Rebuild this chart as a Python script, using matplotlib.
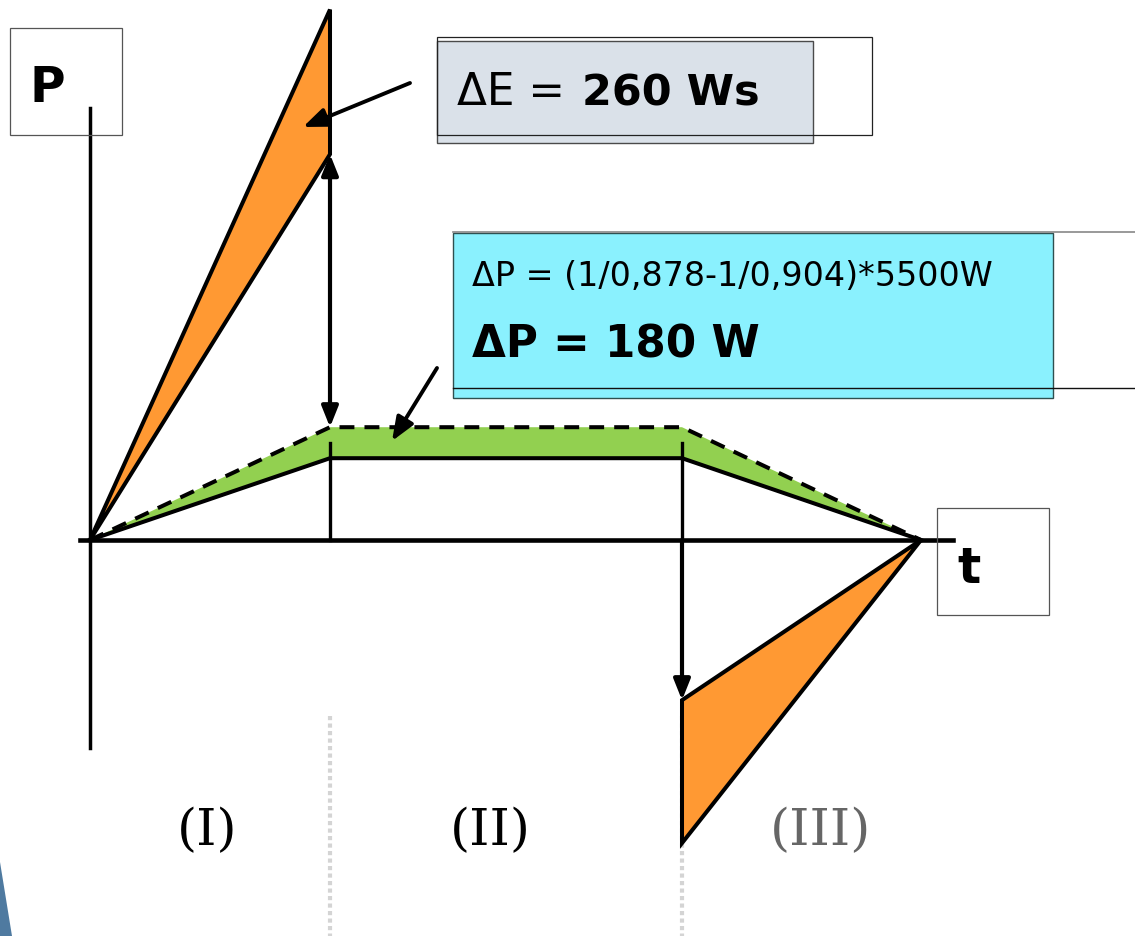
import matplotlib
matplotlib.use("Agg")
import matplotlib.pyplot as plt
from matplotlib.patches import Polygon, Rectangle

# ---- data -------------------------------------------------------------
# time breakpoints of the drive cycle (s): start, end of acceleration,
# end of constant speed, stop
t_points = [0.0, 2.40, 5.92, 8.31]
# motor power profile (W), solid line
p_motor = [0, 475, 475, 0]
# supply power with the lower efficiency (W), dashed line
p_supply = [0, 655, 655, 0]
# acceleration peak (W): top of the ramp and value at end of phase I
p_accel_peak = 3080
p_accel_end = 2240
# braking power in phase III (W): start value and minimum
p_brake_start = -930
p_brake_min = -1760

phase_labels = ["(I)", "(II)", "(III)"]
phase_colors = ["black", "black", "#666666"]

delta_e_label = "260 Ws"
delta_p_formula = "ΔP = (1/0,878-1/0,904)*5500W"
delta_p_label = "ΔP = 180 W"

ORANGE = "#FF9933"
GREEN = "#92D050"
CYAN = "#8AF1FE"
GREYBLUE = "#DAE1E9"

# ---- figure -----------------------------------------------------------
W, H = 1135, 936
fig = plt.figure(figsize=(W / 100, H / 100), dpi=100)

# main diagram axes in (s, W)
ax = fig.add_axes([0, 0, 1, 1])
ax.axis("off")
px_per_s = 100.0
w_per_px = 180.0 / 31.0
x0_px, y0_px = 90, 540
ax.set_xlim(-x0_px / px_per_s, (W - x0_px) / px_per_s)
ax.set_ylim(-(H - y0_px) * w_per_px, y0_px * w_per_px)

# overlay in pixel units for boxes, captions and pointer arrows
ov = fig.add_axes([0, 0, 1, 1])
ov.patch.set_alpha(0)
ov.set_xlim(0, W)
ov.set_ylim(H, 0)
ov.axis("off")

t0, t1, t2, t3 = t_points

# dotted phase separators below the diagram (behind the wedges)
for xs in (330, 682):
    ax.plot([xs, xs], [716, H], color="#D4D4D4", lw=3.0, ls=(0, (1.0, 0.8)),
            transform=ov.transData, zorder=1)

# green loss band between supply and motor power
band = [(t, p) for t, p in zip(t_points, p_supply)] + \
       [(t, p) for t, p in zip(t_points[::-1], p_motor[::-1])]
ax.add_patch(Polygon(band, closed=True, facecolor=GREEN, edgecolor="none", zorder=2))

# orange acceleration wedge (phase I)
ax.add_patch(Polygon([(t0, 0), (t1, p_accel_peak), (t1, p_accel_end)], closed=True,
                     facecolor=ORANGE, edgecolor="black", lw=2.9, joinstyle="miter", zorder=3))
# orange braking wedge (phase III)
ax.add_patch(Polygon([(t2, p_brake_start), (t3, 0), (t2, p_brake_min)], closed=True,
                     facecolor=ORANGE, edgecolor="black", lw=2.9, joinstyle="miter", zorder=3))

# thin verticals at the phase boundaries above the time axis
mid_level = (p_motor[1] + p_supply[1]) / 2
ax.plot([t1, t1], [0, mid_level], color="black", lw=2.4, zorder=4)
ax.plot([t2, t2], [0, mid_level], color="black", lw=2.4, zorder=4)

# power curves
ax.plot(t_points, p_motor, color="black", lw=2.9, zorder=5, solid_joinstyle="miter")
ax.plot(t_points, p_supply, color="black", lw=2.9, ls=(0, (3.7, 2.5)), zorder=5)

# axes lines
p_axis_top = (y0_px - 108) * w_per_px
p_axis_bot = -(748 - y0_px) * w_per_px
ax.plot([t0, t0], [p_axis_bot, p_axis_top], color="black", lw=2.5, zorder=6)
ax.plot([-10 / px_per_s, (953 - x0_px) / px_per_s], [0, 0], color="black", lw=3.3, zorder=6)

# double arrow: peak power minus constant-speed supply power
ax.annotate("", xy=(t1, p_supply[1]), xytext=(t1, p_accel_end),
            arrowprops=dict(arrowstyle="<|-|>,head_length=0.5,head_width=0.2",
                            lw=3.0, color="black", shrinkA=0, shrinkB=0,
                            mutation_scale=25), zorder=7)
# braking arrow
ax.annotate("", xy=(t2, p_brake_start), xytext=(t2, 0),
            arrowprops=dict(arrowstyle="-|>,head_length=0.5,head_width=0.2",
                            lw=3.0, color="black", shrinkA=0, shrinkB=0,
                            mutation_scale=25), zorder=7)

# ---- boxes and captions (pixel overlay) -------------------------------
def outline(x, y, w, h, color="#404040", lw=0.9, z=3):
    ov.add_patch(Rectangle((x, y), w, h, facecolor="none", edgecolor=color, lw=lw, zorder=z))

# P box
outline(10, 28, 112, 107, color="#555555")
ov.text(30, 102, "P", fontsize=35, fontweight="bold", family="DejaVu Sans", va="baseline")
# t box
outline(937, 508, 112, 107, color="#555555")
ov.text(957, 583, "t", fontsize=35, fontweight="bold", family="DejaVu Sans", va="baseline")

# ΔE box
ov.add_patch(Rectangle((437, 41), 376, 102, facecolor=GREYBLUE, edgecolor="#4a4a4a", lw=1.0, zorder=2))
outline(437, 37, 435, 98, color="#222222", lw=0.9)
ov.text(457, 105, "ΔE = ", fontsize=31.5, family="DejaVu Sans", va="baseline", zorder=4)
ov.text(582, 105, delta_e_label, fontsize=31, fontweight="bold", family="DejaVu Sans",
        va="baseline", zorder=4)

# ΔP box
ov.add_patch(Rectangle((453, 233), 600, 165, facecolor=CYAN, edgecolor="#2f4f4f", lw=1.0, zorder=2))
ov.plot([453, W], [232, 232], color="#888888", lw=1.2, zorder=3)
ov.plot([453, W], [388, 388], color="#111111", lw=1.0, zorder=3)
ov.text(472, 286, delta_p_formula, fontsize=24, family="DejaVu Sans", va="baseline", zorder=4)
ov.text(472, 358, delta_p_label, fontsize=31.5, fontweight="bold", family="DejaVu Sans",
        va="baseline", zorder=4)

# pointer arrows from the boxes
ov.annotate("", xy=(303, 127), xytext=(410, 83),
            arrowprops=dict(arrowstyle="-|>,head_length=0.55,head_width=0.22", lw=2.8,
                            color="black", shrinkA=0, shrinkB=0, mutation_scale=26), zorder=8)
ov.annotate("", xy=(392, 441), xytext=(437, 368),
            arrowprops=dict(arrowstyle="-|>,head_length=0.55,head_width=0.22", lw=2.8,
                            color="black", shrinkA=0, shrinkB=0, mutation_scale=26), zorder=8)

# phase captions
for label, xc, col in zip(phase_labels, (207, 490, 821), phase_colors):
    ov.text(xc, 845, label, fontsize=37, family="DejaVu Serif", color=col,
            ha="center", va="baseline")

# slide decoration in the lower-left corner
ov.add_patch(Polygon([(0, 862), (12, H), (0, H)], closed=True, facecolor="#4F7AA0",
                     edgecolor="none", zorder=1))

fig.savefig("out.png", dpi=100)
